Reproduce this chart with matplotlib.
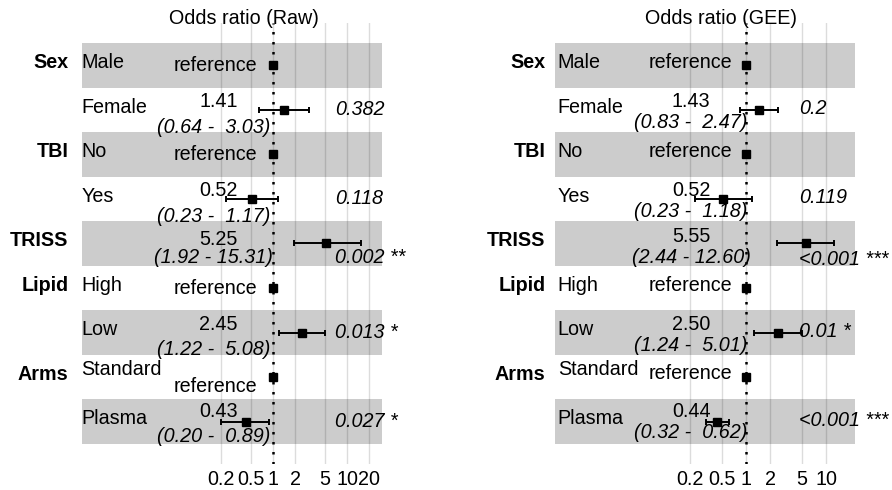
import matplotlib
matplotlib.use("Agg")
import matplotlib.pyplot as plt
import numpy as np
from matplotlib.ticker import NullLocator
from matplotlib.transforms import blended_transform_factory

plt.rcParams["font.family"] = ["Liberation Sans", "DejaVu Sans"]

# ---- data -------------------------------------------------------------
variables = ["Sex", "TBI", "TRISS", "Lipid", "Arms"]
levels = [["Male", "Female"], ["No", "Yes"], [""], ["High", "Low"], ["Standard", "Plasma"]]

# Unadjusted logistic regression
or_raw = [1.41, 0.52, 5.25, 2.45, 0.43]
lo_raw = [0.64, 0.23, 1.92, 1.22, 0.20]
hi_raw = [3.03, 1.17, 15.31, 5.08, 0.89]
p_raw = ["0.382", "0.118", "0.002", "0.013", "0.027"]
stars_raw = ["", "", "**", "*", "*"]
breaks_raw = [0.2, 0.5, 1, 2, 5, 10, 20]

# GEE model
or_gee = [1.43, 0.52, 5.55, 2.50, 0.44]
lo_gee = [0.83, 0.23, 2.44, 1.24, 0.32]
hi_gee = [2.47, 1.18, 12.60, 5.01, 0.62]
p_gee = ["0.2", "0.119", "<0.001", "0.01", "<0.001"]
stars_gee = ["", "", "***", "*", "***"]
breaks_gee = [0.2, 0.5, 1, 2, 5, 10]

# ---- layout -----------------------------------------------------------
W, H = 892, 490
FS = 14.2
TOP_PX, BOT_PX = 23, 464
N_ROWS = sum(len(l) for l in levels)
Y_TOP, Y_BOT = -0.95, N_ROWS - 0.5 + 0.45
ROW_PX = (BOT_PX - TOP_PX) / (Y_BOT - Y_TOP)

# column positions (fraction of the shaded band width) and vertical
# baseline offsets (pixels below the row centre)
left_cols = dict(x0=81.7, var=-0.0447, level=-0.002, est=0.4567, ref=0.4443,
                 ci=0.4397, p=0.8443, title=0.5417,
                 name_dy=2.7, est_dy=-3.0, ci_dy=22.7, ref_dy=5.5, p_dy=5.0,
                 tweaks={"TRISS": dict(est_dy=1.3, ci_dy=19.6, p_dy=19.6),
                         "Plasma": dict(est_dy=-4.5, ci_dy=19.9),
                         "Standard": dict(name_dy=-2.3, ref_dy=14.4)})
right_cols = dict(x0=555.3, var=-0.0333, level=0.008, est=0.453, ref=0.4507,
                  ci=0.4523, p=0.8133, title=0.5523,
                  name_dy=2.7, est_dy=-3.0, ci_dy=18.2, ref_dy=2.6, p_dy=4.5,
                  tweaks={"TRISS": dict(est_dy=-2.0, ci_dy=19.6, p_dy=21.3),
                          "Plasma": dict(est_dy=-5.0, ci_dy=16.5),
                          "Standard": dict(name_dy=-2.3, ref_dy=2.0)})


def build_rows():
    rows = []
    g_est = 0
    for var, levs in zip(variables, levels):
        for k, lev in enumerate(levs):
            is_ref = len(levs) > 1 and k == 0
            rows.append(dict(var=var if k == 0 else "", level=lev, ref=is_ref,
                             est=None if is_ref else g_est, key=lev or var))
        g_est += 1
    return rows


def draw_panel(fig, cols, title, est, lo, hi, pvals, stars, breaks):
    ax = fig.add_axes([cols["x0"] / W, 1 - BOT_PX / H, 300 / W, (BOT_PX - TOP_PX) / H])

    # x range of the shaded band, extended from the CI range
    llo, lhi = np.log10(min(lo)), np.log10(max(hi))
    d = lhi - llo
    ax.set_xscale("log")
    ax.set_xlim(10 ** (llo - d), 10 ** (lhi + 0.15 * d))
    ax.set_ylim(Y_BOT, Y_TOP)

    ax.set_xticks(breaks)
    ax.set_xticklabels([f"{b:g}" for b in breaks])
    ax.xaxis.set_minor_locator(NullLocator())
    ax.tick_params(axis="x", length=0, pad=4.5, labelsize=FS, colors="black")
    ax.set_yticks([])
    ax.grid(True, axis="x", color="#DCDCDC", lw=1.0)
    ax.set_axisbelow(True)
    for s in ax.spines.values():
        s.set_visible(False)

    rows = build_rows()
    for i in range(0, len(rows), 2):
        ax.axhspan(i - 0.5, i + 0.5, color="black", alpha=0.2, lw=0, zorder=1)

    ax.axvline(1, color="black", lw=1.8, ls=(0, (1, 3)), zorder=3)

    tr = ax.get_yaxis_transform()
    txt = dict(transform=tr, fontsize=FS, color="black", va="baseline", clip_on=False)
    for i, r in enumerate(rows):
        lay = dict(cols)
        lay.update(cols["tweaks"].get(r["key"], {}))
        dy = lambda k: i + lay[k] / ROW_PX
        if r["var"]:
            ax.text(cols["var"], i + cols["name_dy"] / ROW_PX, r["var"],
                    ha="right", fontweight="bold", **txt)
        ax.text(cols["level"], dy("name_dy"), r["level"], ha="left", **txt)
        if r["ref"]:
            ax.text(cols["ref"], dy("ref_dy"), "reference", ha="center", **txt)
            ax.plot([1], [i], "s", color="black", ms=6.2, zorder=5)
        else:
            g = r["est"]
            ax.text(cols["est"], dy("est_dy"), f"{est[g]:.2f}", ha="center", **txt)
            ax.text(cols["ci"], dy("ci_dy"), f"({lo[g]:.2f} - {hi[g]:5.2f})",
                    ha="center", style="italic", **txt)
            ax.errorbar([est[g]], [i], xerr=[[est[g] - lo[g]], [hi[g] - est[g]]],
                        fmt="s", color="black", ms=5.8, lw=1.4, capsize=2.4,
                        capthick=1.4, zorder=5)
            label = pvals[g] + (" " + stars[g] if stars[g] else "")
            ax.text(cols["p"], dy("p_dy"), label, ha="left", style="italic", **txt)

    ttr = blended_transform_factory(ax.transAxes, fig.transFigure)
    ax.text(cols["title"], 1 - 24 / H, title, transform=ttr, ha="center",
            va="baseline", fontsize=FS, color="black")
    return ax


fig = plt.figure(figsize=(W / 100, H / 100), dpi=100)
draw_panel(fig, left_cols, "Odds ratio (Raw)", or_raw, lo_raw, hi_raw,
           p_raw, stars_raw, breaks_raw)
draw_panel(fig, right_cols, "Odds ratio (GEE)", or_gee, lo_gee, hi_gee,
           p_gee, stars_gee, breaks_gee)
fig.savefig("out.png", dpi=100, facecolor="white")
